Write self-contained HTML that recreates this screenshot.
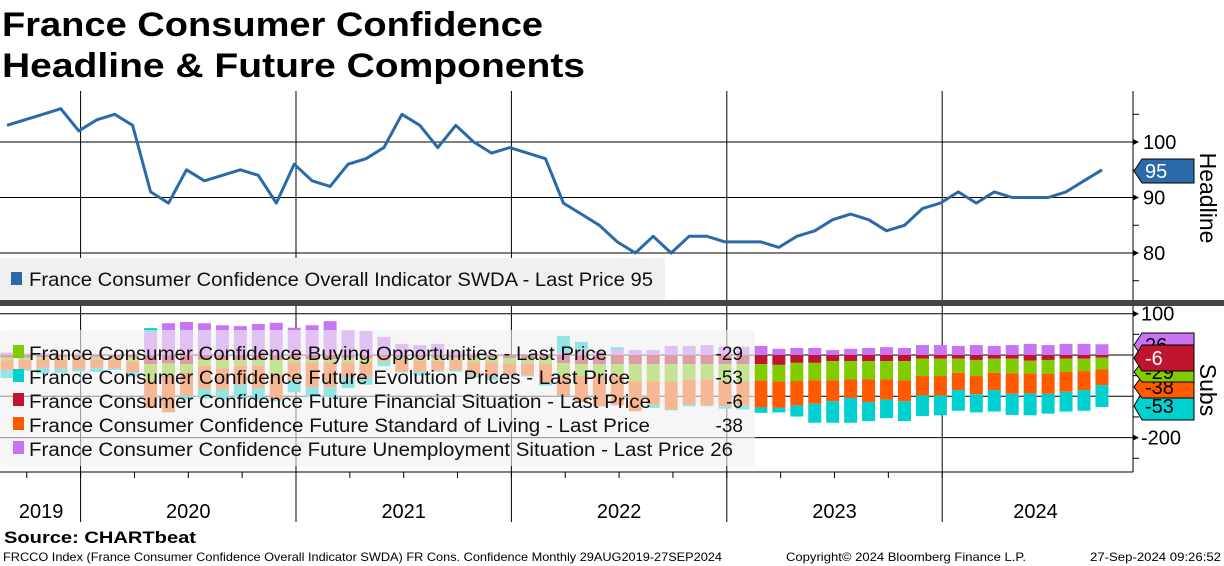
<!DOCTYPE html>
<html><head><meta charset="utf-8">
<style>
body{margin:0;background:#fff;}
svg{display:block;font-family:"Liberation Sans",sans-serif;}
</style></head>
<body>
<svg id="chart" width="1224" height="566" viewBox="0 0 1224 566" xmlns="http://www.w3.org/2000/svg">
<text x="2" y="36" font-size="34" font-weight="bold" fill="#000" textLength="541" lengthAdjust="spacingAndGlyphs">France Consumer Confidence</text>
<text x="2" y="77" font-size="34" font-weight="bold" fill="#000" textLength="583" lengthAdjust="spacingAndGlyphs">Headline &amp; Future Components</text>
<g id="grid"></g>
<g id="bars"></g>
<g id="line"></g>
<rect x="0" y="258" width="665" height="42" fill="#f0f0f0"/>
<rect x="11" y="272" width="11" height="13" fill="#2a6aa8"/>
<text x="29" y="286" font-size="19" fill="#111" textLength="624" lengthAdjust="spacingAndGlyphs">France Consumer Confidence Overall Indicator SWDA - Last Price 95</text>
<rect x="0" y="300" width="1224" height="6" fill="#444"/>
<rect x="0" y="330" width="755" height="136" rx="3" fill="#f0f0f0" fill-opacity="0.62"/>
<g font-size="19" fill="#111">
<rect x="13" y="345" width="11" height="13" fill="#80cc00"/>
<text x="29" y="360" textLength="578" lengthAdjust="spacingAndGlyphs">France Consumer Confidence Buying Opportunities - Last Price</text>
<text x="743" y="360" text-anchor="end">-29</text>
<rect x="13" y="369" width="11" height="13" fill="#00d0d0"/>
<text x="29" y="384" textLength="601" lengthAdjust="spacingAndGlyphs">France Consumer Confidence Future Evolution Prices - Last Price</text>
<text x="743" y="384" text-anchor="end">-53</text>
<rect x="13" y="393" width="11" height="13" fill="#c0152f"/>
<text x="29" y="408" textLength="622" lengthAdjust="spacingAndGlyphs">France Consumer Confidence Future Financial Situation - Last Price</text>
<text x="743" y="408" text-anchor="end">-6</text>
<rect x="13" y="417" width="11" height="13" fill="#ff5a00"/>
<text x="29" y="432" textLength="621" lengthAdjust="spacingAndGlyphs">France Consumer Confidence Future Standard of Living - Last Price</text>
<text x="743" y="432" text-anchor="end">-38</text>
<rect x="13" y="441" width="11" height="13" fill="#c875f5"/>
<text x="29" y="456" textLength="704" lengthAdjust="spacingAndGlyphs">France Consumer Confidence Future Unemployment Situation - Last Price 26</text>
</g>
<g id="axes"></g>
<text transform="translate(1200,198) rotate(90)" font-size="23" text-anchor="middle" fill="#000">Headline</text>
<text transform="translate(1200,390) rotate(90)" font-size="23" text-anchor="middle" fill="#000">Subs</text>
<g id="tags"></g>
<text x="4" y="543" font-size="17" font-weight="bold" fill="#000" textLength="192" lengthAdjust="spacingAndGlyphs">Source: CHARTbeat</text>
<text x="3" y="561" font-size="12" fill="#000" textLength="719" lengthAdjust="spacingAndGlyphs">FRCCO Index (France Consumer Confidence Overall Indicator SWDA) FR Cons. Confidence  Monthly 29AUG2019-27SEP2024</text>
<text x="786" y="561" font-size="12" fill="#000" textLength="240" lengthAdjust="spacingAndGlyphs">Copyright© 2024 Bloomberg Finance L.P.</text>
<text x="1090" y="561" font-size="12" fill="#000" textLength="131" lengthAdjust="spacingAndGlyphs">27-Sep-2024 09:26:52</text>
</svg>
<script>
const headline=[103,104,105,106,102,104,105,103,91,89,95,93,94,95,94,89,96,93,92,96,97,99,105,103,99,103,100,98,99,98,97,
89,87,85,82,80,83,80,83,83,82,82,82,81,83,84,86,87,86,84,85,88,89,91,89,91,90,90,90,91,93,95];
const unemployment=[6,4,4,3,4,3,2,0,55,77,80,77,72,70,75,78,66,72,82,60,58,44,27,24,27,10,4,2,0,0,0,6,12,8,12,12,12,22,22,24,20,20,
22,15,17,17,12,15,17,19,17,24,24,22,24,22,24,27,24,27,27,26];
const financial=[-6,-6,-5,-5,-5,-5,-6,-6,-22,-20,-22,-12,-12,-12,-12,-12,-10,-10,-10,-8,-8,-6,-6,-6,-6,-6,-6,-6,-8,-8,-8,-20,-22,-22,-22,-22,-22,-22,-22,-22,-22,-22,
-22,-24,-19,-19,-15,-15,-15,-15,-15,-9,-9,-9,-12,-9,-9,-14,-12,-9,-9,-6];
const buying=[-7,-6,-6,-6,-5,-6,-6,-10,-40,-30,-20,-14,-20,-14,-14,-36,-8,-8,-8,-10,-10,-4,-6,-8,-8,-6,-12,-12,-12,-12,-14,-30,-28,-30,-28,-42,-42,-42,-38,-38,-42,-42,
-40,-40,-44,-42,-46,-44,-44,-44,-46,-42,-42,-34,-39,-34,-35,-31,-34,-32,-30,-29];
const living=[-23,-22,-20,-22,-24,-20,-20,-26,-66,-88,-56,-55,-52,-46,-54,-60,-44,-60,-60,-36,-36,-6,-28,-26,-24,-24,-30,-34,-30,-30,-44,-48,-64,-72,-72,-72,-56,-68,-60,-62,-60,-58,
-65,-64,-59,-57,-51,-45,-55,-49,-51,-47,-47,-42,-44,-42,-50,-48,-48,-48,-46,-38];
const prices=[-20,-4,-14,-10,-6,-10,-4,-10,10,-1,-10,-24,-24,-32,-28,-4,-28,-24,-24,-26,-18,-11,-2,-10,-2,-4,-6,-8,-2,-2,-8,40,20,2,7,0,-8,-2,-4,-2,-6,-10,
-13,-11,-27,-46,-52,-60,-46,-45,-48,-50,-48,-50,-44,-52,-51,-53,-48,-48,-50,-53];
const years=["2019","2020","2021","2022","2023","2024"];
const headlineTicks=[80,90,100];
const subsTicks=[-200,100];

const NS="http://www.w3.org/2000/svg";
function mk(tag,attrs,parent){const e=document.createElementNS(NS,tag);for(const k in attrs)e.setAttribute(k,attrs[k]);parent.appendChild(e);return e;}
const xOf=i=>7+17.95*i;
const yH=v=>142+(100-v)*5.55;
const yS=v=>355-v*0.413;
const grid=document.getElementById('grid'),bars=document.getElementById('bars'),line=document.getElementById('line'),axes=document.getElementById('axes'),tags=document.getElementById('tags');
const yearIdx=[4.1,16.1,28.1,40.1,52.1];
yearIdx.forEach(k=>{const g=mk('line',{x1:xOf(k),x2:xOf(k),y1:91,y2:300,stroke:'#000','stroke-width':1},grid);

const g2=mk('line',{x1:xOf(k),x2:xOf(k),y1:306,y2:522,stroke:'#000','stroke-width':1},grid);
});
headlineTicks.forEach(v=>{const g=mk('line',{x1:0,x2:1133,y1:yH(v),y2:yH(v),stroke:'#000','stroke-width':1},grid);

const t=mk('text',{x:1143,y:yH(v)+7,'font-size':20,fill:'#000'},axes);t.textContent=v;

mk('path',{d:`M1133 ${yH(v)-3}L1139 ${yH(v)}L1133 ${yH(v)+3}Z`,fill:'#000'},axes);});
[105,95,85,75].forEach(v=>{mk('line',{x1:1133,x2:1139,y1:yH(v),y2:yH(v),stroke:'#000'},axes);});
[100,0,-100,-200].forEach(v=>{const g=mk('line',{x1:0,x2:1133,y1:yS(v),y2:yS(v),stroke:'#000','stroke-width':1},grid);
});
subsTicks.forEach(v=>{const t=mk('text',{x:1141,y:yS(v)+7,'font-size':20,fill:'#000'},axes);t.textContent=v;

mk('path',{d:`M1133 ${yS(v)-3}L1139 ${yS(v)}L1133 ${yS(v)+3}Z`,fill:'#000'},axes);});
[50,-50,-150,-250].forEach(v=>{mk('line',{x1:1133,x2:1139,y1:yS(v),y2:yS(v),stroke:'#000'},axes);});
mk('line',{x1:1133,x2:1133,y1:91,y2:300,stroke:'#000'},axes);
mk('line',{x1:1133,x2:1133,y1:306,y2:472,stroke:'#000'},axes);
mk('line',{x1:0,x2:1133,y1:472,y2:472,stroke:'#000'},axes);
for(let m=1;m<=20;m++){const k=4.1+(m-1)*3-9;if(k<0)continue;mk('line',{x1:xOf(k),x2:xOf(k),y1:472,y2:478,stroke:'#000'},axes);}
const yearCenters=[1.9,10.1,22.1,34.1,46.1,57.3];
years.forEach((y,j)=>{const t=mk('text',{x:xOf(yearCenters[j]),y:518,'font-size':20,'text-anchor':'middle',fill:'#000'},axes);t.textContent=y;
});
const series=[{d:financial,c:'#c0152f',n:'financial'},{d:buying,c:'#80cc00',n:'buying'},{d:living,c:'#ff5a00',n:'living'},{d:unemployment,c:'#c875f5',n:'unemployment'},{d:prices,c:'#00d0d0',n:'prices'}];
for(let i=0;i<headline.length;i++){let pos=0,neg=0;
series.forEach(s=>{const v=s.d[i];let a,b;if(v>=0){a=pos;b=pos+v;pos=b;}else{a=neg;b=neg+v;neg=b;}
const r=mk('rect',{x:xOf(i)-6.5,width:13,y:Math.min(yS(a),yS(b)),height:Math.abs(yS(a)-yS(b)),fill:s.c},bars);
});}
const pts=headline.map((v,i)=>xOf(i).toFixed(1)+','+yH(v).toFixed(1)).join(' ');
const pl=mk('polyline',{points:pts,fill:'none',stroke:'#2a6aa8','stroke-width':3,'stroke-linejoin':'round'},line);

function tag(y,h,col,txt,tc,name){const g=mk('g',{},tags);

mk('path',{d:`M1134 ${y+h/2}L1142 ${y}L1194 ${y}L1194 ${y+h}L1142 ${y+h}Z`,fill:col,stroke:'#000','stroke-width':1},g);
const t=mk('text',{x:1145,y:y+h/2+7,'font-size':20,fill:tc},g);t.textContent=txt;}
tag(159,24,'#2a6aa8','95','#fff','tag-headline');
tag(333,24,'#c875f5','26','#000','tag-unemployment');
tag(392,28,'#00d0d0','-53','#000','tag-prices');
tag(376,22,'#ff5a00','-38','#000','tag-living');
tag(362,20,'#80cc00','-29','#000','tag-buying');
tag(345,26,'#c0152f','-6','#fff','tag-financial');
</script>
</body></html>
